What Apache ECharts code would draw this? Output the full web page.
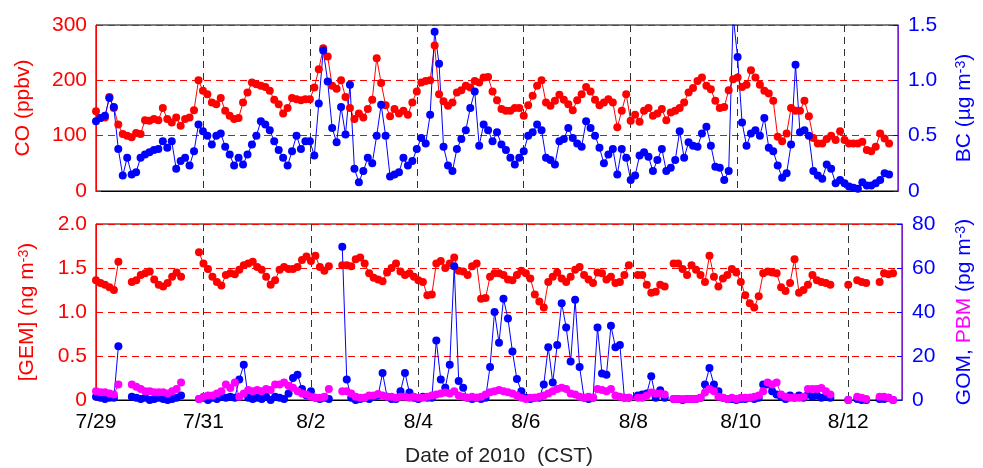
<!DOCTYPE html>
<html>
<head>
<meta charset="utf-8">
<script src="https://cdn.jsdelivr.net/npm/echarts@6/dist/echarts.min.js"></script>
<style>
  html, body { margin: 0; padding: 0; background: #fff; }
  #chart { width: 983px; height: 468px; }
</style>
</head>
<body>
<div id="chart"></div>
<script>
// Tick labels for the shared time axis (every 2 days from 7/29)
const dateLabels = ['7/29', '7/31', '8/2', '8/4', '8/6', '8/8', '8/10', '8/12'];
// Observations are 2-hourly, starting 7/29 00:00 (x in days)
const stepDays = 1 / 12;

// CO (ppbv)
const co = [
  144,132,133,170,150,120,103,100,97,105,103,128,
  127,130,128,150,130,124,133,118,130,133,146,200,
  181,175,160,157,168,145,136,130,132,160,178,196,
  193,190,188,181,165,157,140,150,168,166,164,166,
  166,187,220,258,243,190,185,200,170,150,130,140,
  133,148,165,240,195,155,135,148,140,145,138,160,
  180,196,199,200,263,175,162,154,160,178,182,190,
  187,199,196,205,206,180,164,148,145,145,150,150,
  136,155,172,190,200,160,154,163,174,165,157,146,
  164,175,188,180,165,155,160,166,160,115,145,175,
  127,138,125,145,150,136,140,148,128,142,145,150,
  160,178,186,199,205,190,184,163,150,152,182,202,
  205,188,192,218,205,192,181,176,163,98,90,104,
  150,145,145,163,135,96,86,86,94,100,92,108,
  92,86,86,86,89,74,72,80,104,95,86
];

// BC (ug m-3)
const bc = [
  0.63,0.66,0.68,0.84,0.76,0.38,0.14,0.30,0.15,0.17,0.30,0.33,
  0.35,0.37,0.38,0.45,0.39,0.45,0.20,0.27,0.30,0.23,0.36,0.60,
  0.54,0.50,0.42,0.50,0.52,0.40,0.33,0.23,0.30,0.24,0.33,0.42,
  0.50,0.63,0.60,0.55,0.45,0.37,0.30,0.23,0.36,0.50,0.38,0.45,
  0.45,0.32,0.79,1.27,0.99,0.57,0.44,0.76,0.51,0.96,0.20,0.08,
  0.18,0.30,0.25,0.50,0.78,0.50,0.13,0.15,0.17,0.30,0.23,0.27,
  0.38,0.48,0.43,0.69,1.44,1.15,0.40,0.23,0.18,0.38,0.47,0.55,
  0.75,0.90,0.41,0.60,0.55,0.45,0.53,0.42,0.37,0.30,0.24,0.30,
  0.36,0.50,0.53,0.60,0.55,0.30,0.28,0.24,0.45,0.47,0.57,0.48,
  0.43,0.40,0.63,0.57,0.50,0.39,0.25,0.33,0.38,0.15,0.38,0.30,
  0.10,0.14,0.32,0.35,0.31,0.18,0.28,0.38,0.18,0.21,0.28,0.54,
  0.30,0.44,0.41,0.40,0.52,0.58,0.41,0.22,0.21,0.10,0.18,1.58,
  1.21,0.62,0.41,0.52,0.55,0.50,0.66,0.39,0.36,0.23,0.12,0.16,
  0.42,1.14,0.53,0.55,0.50,0.18,0.14,0.11,0.24,0.20,0.07,0.10,
  0.07,0.04,0.03,0.02,0.08,0.05,0.05,0.07,0.10,0.16,0.15
];

// GEM (ng m-3); null = no measurement
const gem = [
  1.36,1.33,1.31,1.28,1.25,1.57,null,null,1.34,1.36,1.42,1.44,
  1.46,1.37,1.31,1.29,1.33,1.40,1.45,1.40,null,null,null,1.68,
  1.55,1.49,1.40,1.34,1.30,1.42,1.44,1.43,1.48,1.53,1.55,1.57,
  1.51,1.48,1.40,1.31,1.36,1.48,1.51,1.49,1.49,1.51,1.59,1.63,
  1.58,1.64,1.51,1.47,1.52,null,null,1.53,1.53,1.52,1.60,1.62,
  1.55,1.44,1.39,1.37,1.35,1.45,1.50,1.55,1.46,1.42,1.44,1.40,
  1.36,1.34,1.19,1.20,1.55,1.58,1.50,1.55,1.62,1.47,1.46,1.42,
  1.52,1.55,1.15,1.16,1.40,1.44,1.44,1.42,1.37,1.36,1.42,1.47,
  1.44,1.38,1.20,1.12,1.05,1.34,1.40,1.45,1.38,1.34,1.40,1.48,
  1.51,1.42,1.37,1.33,1.45,1.44,1.37,1.40,1.33,1.34,1.42,1.53,
  null,1.42,1.42,1.31,1.22,1.23,1.31,1.29,null,1.55,1.55,1.49,
  1.42,1.53,1.48,1.42,1.34,1.64,1.40,1.29,1.38,1.42,1.49,1.45,
  1.34,1.19,1.10,1.05,1.18,1.44,1.46,1.45,1.44,1.28,1.24,1.33,
  1.60,1.22,1.25,1.31,1.42,1.36,1.34,1.33,1.31,null,null,null,
  1.31,null,1.36,1.34,1.33,null,null,1.34,1.44,1.43,1.44
];

// GOM (pg m-3)
const gom = [
  1.5,1.0,0.5,1.0,1.0,24.4,null,null,1.5,1.0,0.5,1.0,
  0.0,0.5,1.0,0.5,0.0,0.5,1.0,2.0,null,null,null,0.5,
  1.0,0.0,1.0,0.5,1.5,1.0,1.5,1.0,9.3,16,1.0,0.5,
  1.0,0.5,1.5,0.0,1.5,1.0,0.5,3.0,10,11.5,5,2,
  4,1.0,0.5,1.0,0.5,null,null,69.7,9.3,1.0,0.0,0.5,
  1.0,0.5,1.5,2.0,12.3,1.5,0.5,0.5,4,12.3,3.4,1.0,
  0.5,1.5,1.0,1.0,27,9.3,5.6,16,60.8,8.6,5.6,1.0,
  0.5,1.0,0.5,1.0,15,40,26,46,37,22,9.5,4,
  1.0,0.5,1.0,1.0,7,24,8,25,44,33,17.5,45.6,
  15,1.0,0.5,1.0,33,12,11.5,33.7,24,25,1.0,1.0,
  null,2,2.5,3,10.8,1.0,4.4,1.0,null,0.5,0.5,0.0,
  0.5,0.5,0.5,1.0,7,14.5,7,4,1.0,0.5,0.5,0.0,
  0.5,0.5,1.0,0.5,1.0,7,7,4,2.5,1.5,0.5,2.0,
  1.0,2.0,1.0,2.5,1.5,2.0,1.0,1.5,1.0,null,null,null,
  0.0,null,0.5,0.0,0.0,null,null,0.5,0.5,1.0,0.0
];

// PBM (pg m-3)
const pbm = [
  4,3.5,3.5,3,2.5,7,null,null,7,6,5,4,
  4,3.5,3.5,3.5,3,4,5,8,null,null,null,0.5,
  1.5,2,2,3,4,7,5.5,8,1.5,3,4.5,4,
  4.5,4,5,4.5,7,7,8,6.5,5.6,4,3,2.5,
  1.5,1,1,1.5,5,null,null,4,4,3,1.5,1,
  1,2,2,2.7,2,1.5,1.5,1,1.5,1.5,1,1.5,
  1,1,1.5,2,2.5,3,3.4,3,4,2,1.5,1,
  1.5,1,1.5,2.5,3.5,4,4.5,4,3.5,3,2,1,
  0.5,1,1,1.5,2,3,4,5,5.6,5,3,2.5,
  1.5,1,1.5,1,5,4.5,4,5,2,1.5,1,1,
  null,1,1,2,3.4,3,3,2.5,null,0.5,0.5,0.5,
  0.5,0.5,0.5,1,3.4,5,4,1.5,1,0.5,1,0.5,
  1,1,1,1.5,2,4,8,7,8,2.5,1.5,1,
  1,1,1.5,5,5,5,5.5,4,2.5,null,null,null,
  0,null,1.5,1,0.5,null,null,1.5,1.5,1,0
];

const FONT = '"Liberation Sans", Arial, sans-serif';
const RED = '#ff0000', BLUE = '#0000ff', MAGENTA = '#ff00ff', VIOLET = '#7a1fd0';
const DASH = [7, 5];

const toPairs = arr => arr.map((v, i) => [i * stepDays, v]);
const decimalFmt = v => (v === 0 ? '0' : v.toFixed(1));
const dateFmt = v => (v % 2 === 0 && v / 2 < dateLabels.length ? dateLabels[v / 2] : '');

function timeAxis(gridIndex, withLabels) {
  return {
    gridIndex, type: 'value', min: 0, max: 15, interval: 2,
    axisLine: { show: true, onZero: false, lineStyle: { color: '#000', width: 1 } },
    axisTick: { show: false },
    axisLabel: { show: withLabels, formatter: dateFmt, fontSize: 21, color: '#000',
                 fontFamily: FONT, margin: 12, showMaxLabel: false },
    splitLine: { show: true, lineStyle: { color: '#333', type: DASH, width: 1 } },
    name: withLabels ? 'Date of 2010  (CST)' : '',
    nameLocation: 'middle', nameGap: 46,
    nameTextStyle: { fontSize: 21, color: '#222', fontFamily: FONT }
  };
}

function dotSeries(data, color, xi, yi) {
  return {
    type: 'line', xAxisIndex: xi, yAxisIndex: yi, data: toPairs(data),
    symbol: 'circle', symbolSize: 8, showAllSymbol: true, clip: true,
    connectNulls: false, animation: false,
    itemStyle: { color }, lineStyle: { color, width: 1 }
  };
}

const chart = echarts.init(document.getElementById('chart'), null, { renderer: 'canvas' });
chart.setOption({
  backgroundColor: '#fff',
  animation: false,
  textStyle: { fontFamily: FONT },
  grid: [
    { left: 96, right: 81, top: 25, height: 166, show: true, borderColor: '#000', borderWidth: 1, backgroundColor: 'transparent' },
    { left: 96, right: 81, top: 224, height: 179, show: true, borderColor: '#000', borderWidth: 1, backgroundColor: 'transparent' }
  ],
  xAxis: [timeAxis(0, false), timeAxis(1, true)],
  yAxis: [
    {
      gridIndex: 0, type: 'value', position: 'left', min: 0, max: 300, interval: 100,
      axisLine: { show: true, lineStyle: { color: RED } },
      axisTick: { show: true, inside: true, length: 5, lineStyle: { color: RED } },
      axisLabel: { color: RED, fontSize: 21, fontFamily: FONT, margin: 9 },
      splitLine: { show: true, lineStyle: { color: RED, type: DASH } },
      name: 'CO (ppbv)', nameLocation: 'middle', nameGap: 62, nameRotate: 90,
      nameTextStyle: { color: RED, fontSize: 21, fontFamily: FONT }
    },
    {
      gridIndex: 0, type: 'value', position: 'right', min: 0, max: 1.5, interval: 0.5,
      axisLine: { show: true, lineStyle: { color: VIOLET } },
      axisTick: { show: true, inside: true, length: 5, lineStyle: { color: BLUE } },
      axisLabel: { color: BLUE, fontSize: 21, fontFamily: FONT, margin: 10, formatter: decimalFmt },
      splitLine: { show: false },
      name: '{a|BC (\u00b5g m}{s|-3}{a|)}', nameLocation: 'middle', nameGap: 56, nameRotate: 90,
      nameTextStyle: {
        rich: {
          a: { color: BLUE, fontSize: 21, fontFamily: FONT },
          s: { color: BLUE, fontSize: 14, fontFamily: FONT, verticalAlign: 'top' }
        }
      }
    },
    {
      gridIndex: 1, type: 'value', position: 'left', min: 0, max: 2, interval: 0.5,
      axisLine: { show: true, lineStyle: { color: RED } },
      axisTick: { show: true, inside: true, length: 5, lineStyle: { color: RED } },
      axisLabel: { color: RED, fontSize: 21, fontFamily: FONT, margin: 9, formatter: decimalFmt },
      splitLine: { show: true, lineStyle: { color: RED, type: DASH } },
      name: '{a|[GEM] (ng m}{s|-3}{a|)}', nameLocation: 'middle', nameGap: 58, nameRotate: 90,
      nameTextStyle: {
        rich: {
          a: { color: RED, fontSize: 21, fontFamily: FONT },
          s: { color: RED, fontSize: 14, fontFamily: FONT, verticalAlign: 'top' }
        }
      }
    },
    {
      gridIndex: 1, type: 'value', position: 'right', min: 0, max: 80, interval: 20,
      axisLine: { show: true, lineStyle: { color: VIOLET } },
      axisTick: { show: true, inside: true, length: 5, lineStyle: { color: BLUE } },
      axisLabel: { color: BLUE, fontSize: 21, fontFamily: FONT, margin: 10 },
      splitLine: { show: false },
      name: '{b|GOM, }{m|PBM}{b| (pg m}{s|-3}{b|)}', nameLocation: 'middle', nameGap: 52, nameRotate: 90,
      nameTextStyle: {
        rich: {
          b: { color: BLUE, fontSize: 21, fontFamily: FONT },
          m: { color: MAGENTA, fontSize: 21, fontFamily: FONT },
          s: { color: BLUE, fontSize: 14, fontFamily: FONT, verticalAlign: 'top' }
        }
      }
    }
  ],
  series: [
    dotSeries(co, RED, 0, 0),
    dotSeries(bc, BLUE, 0, 1),
    dotSeries(gem, RED, 1, 2),
    dotSeries(gom, BLUE, 1, 3),
    dotSeries(pbm, MAGENTA, 1, 3)
  ]
});
</script>
</body>
</html>
